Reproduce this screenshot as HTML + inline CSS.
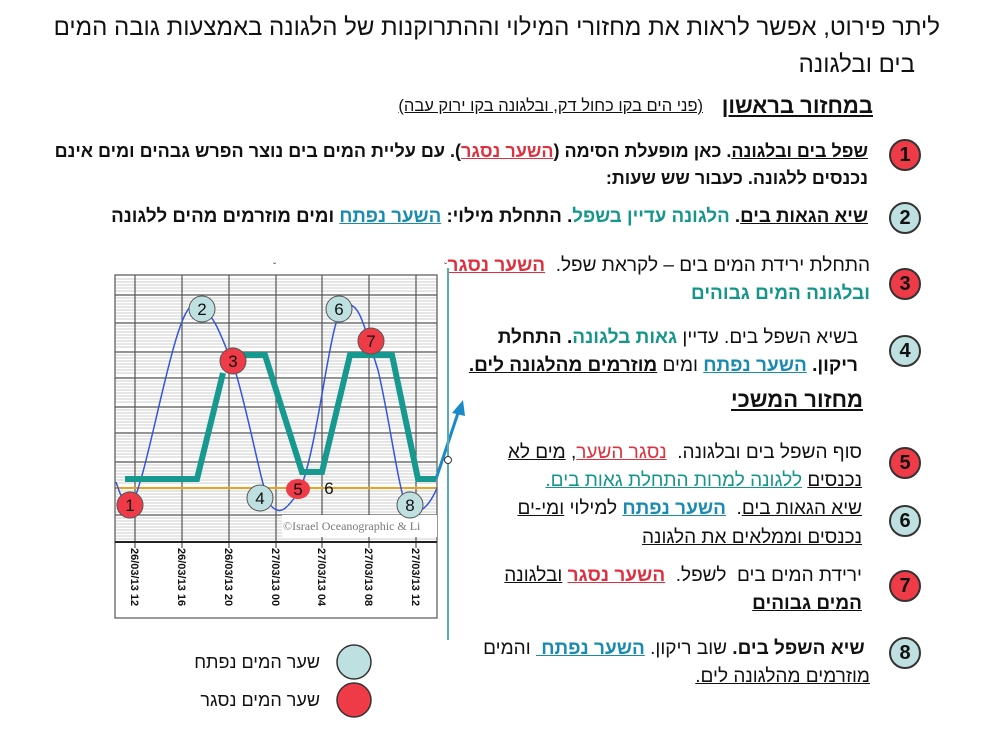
<!DOCTYPE html>
<html><head><meta charset="utf-8"><style>
body{margin:0;width:985px;height:734px;background:#fff;position:relative;overflow:hidden;font-family:"Liberation Sans","DejaVu Sans",sans-serif;}
.t{position:absolute;direction:rtl;white-space:nowrap;font-size:18px;font-weight:bold;color:#111;line-height:1;}
.w{font-size:19px;}
.u{text-decoration:underline;}
.r{color:#e0303f;}
.g{color:#16968a;}
.b{color:#1a8bb0;}
.n{position:absolute;width:28px;height:28px;border-radius:50%;border:2px solid #333;text-align:center;line-height:28px;font-size:20px;font-weight:bold;font-family:"Liberation Sans",sans-serif;color:#111;}
.red{background:#ef3b47;}.lb{background:#bfe0e0;}
</style></head><body>
<div class="t" style="right:45px;top:16px;font-size:24px;font-weight:normal;">ליתר פירוט, אפשר לראות את מחזורי המילוי וההתרוקנות של הלגונה באמצעות גובה המים</div>
<div class="t" style="right:70px;top:53px;font-size:24px;font-weight:normal;">בים ובלגונה</div>
<div class="t u" style="right:112px;top:95px;font-size:22px;">במחזור בראשון</div>
<div class="t u" style="right:282px;top:98px;font-size:16.5px;font-weight:normal;">(פני הים בקו כחול דק, ובלגונה בקו ירוק עבה)</div>

<div class="n red" style="left:889px;top:139px;">1</div>
<div class="t" style="right:117px;top:142px;"><span class="u">שפל בים ובלגונה</span>. כאן מופעלת הסימה (<span class="u r">השער נסגר</span>). עם עליית המים בים נוצר הפרש גבהים ומים אינם</div>
<div class="t" style="right:117px;top:169px;">נכנסים ללגונה. כעבור שש שעות:</div>
<div class="n lb" style="left:889px;top:202px;">2</div>
<div class="t" style="right:117px;top:207px;font-size:18.7px;"><span class="u">שיא הגאות בים</span>. <span class="g">הלגונה עדיין בשפל</span>. התחלת מילוי: <span class="u b">השער נפתח</span> ומים מוזרמים מהים ללגונה</div>
<div class="n red" style="left:889px;top:268px;">3</div>
<div class="t w" style="right:115px;top:256px;font-weight:normal;">התחלת ירידת המים בים – לקראת שפל.&nbsp; <b class="u r">השער נסגר</b></div>
<div class="t w g" style="right:115px;top:284px;">ובלגונה המים גבוהים</div>
<div class="n lb" style="left:889px;top:335px;">4</div>
<div class="t w" style="right:127px;top:328px;"><span style="font-weight:normal">בשיא השפל בים. עדיין </span><span class="g">גאות בלגונה</span>. התחלת</div>
<div class="t w" style="right:127px;top:356px;">ריקון. <span class="u b">השער נפתח</span> <span style="font-weight:normal">ומים</span> <span class="u">מוזרמים מהלגונה לים.</span></div>
<div class="t u" style="right:122px;top:389px;font-size:22px;">מחזור המשכי</div>
<div class="n red" style="left:889px;top:447px;">5</div>
<div class="t w" style="right:123px;top:443px;font-weight:normal;">סוף השפל בים ובלגונה.&nbsp; <span class="u r">נסגר השער</span>, <span class="u">מים לא</span></div>
<div class="t w" style="right:123px;top:471px;font-weight:normal;"><span class="u">נכנסים</span> <span class="u g">ללגונה למרות התחלת גאות בים.</span></div>
<div class="n lb" style="left:889px;top:505px;">6</div>
<div class="t w" style="right:123px;top:499px;font-weight:normal;"><span class="u">שיא הגאות בים</span>.&nbsp; <b class="u b">השער נפתח</b> למילוי <span class="u">ומי-ים</span></div>
<div class="t w u" style="right:123px;top:528px;font-weight:normal;">נכנסים וממלאים את הלגונה</div>
<div class="n red" style="left:889px;top:570px;">7</div>
<div class="t w" style="right:123px;top:566px;font-weight:normal;">ירידת המים בים&nbsp; לשפל.&nbsp; <b class="u r">השער נסגר</b> <span class="u">ובלגונה</span></div>
<div class="t w u" style="right:123px;top:594px;">המים גבוהים</div>
<div class="n lb" style="left:889px;top:637px;">8</div>
<div class="t w" style="right:115px;top:639px;">&nbsp;שיא השפל בים. <span style="font-weight:normal">שוב ריקון.</span> <span class="u b">השער נפתח&nbsp;</span> <span style="font-weight:normal">והמים</span></div>
<div class="t w" style="right:115px;top:667px;font-weight:normal;"><span class="u">מוזרמים מהלגונה לים.</span></div>

<div class="t" style="right:665px;top:653px;font-weight:normal;">שער המים נפתח</div>
<div class="t" style="right:665px;top:691px;font-weight:normal;">שער המים נסגר</div>

<svg style="position:absolute;left:0;top:0" width="985" height="734">
<circle cx="354" cy="662" r="17" fill="#bfe0e0" stroke="#333" stroke-width="1.5"/>
<circle cx="354" cy="700" r="17" fill="#ef3b47" stroke="#333" stroke-width="1.5"/>
<g stroke="#999" stroke-width="0.6">
<path d="M115 279H437M115 282H437M115 285H437M115 288H437M115 291H437M115 298H437M115 301H437M115 304H437M115 307H437M115 310H437M115 313H437M115 316H437M115 319H437M115 326H437M115 329H437M115 332H437M115 335H437M115 338H437M115 341H437M115 344H437M115 347H437M115 355H437M115 358H437M115 361H437M115 364H437M115 367H437M115 370H437M115 373H437M115 381H437M115 384H437M115 387H437M115 390H437M115 393H437M115 396H437M115 399H437M115 402H437M115 410H437M115 413H437M115 416H437M115 419H437M115 422H437M115 425H437M115 428H437M115 436H437M115 439H437M115 442H437M115 445H437M115 448H437M115 451H437M115 454H437M115 457H437M115 465H437M115 468H437M115 471H437M115 474H437M115 477H437M115 480H437M115 483H437M115 491H437M115 494H437M115 497H437M115 500H437M115 503H437M115 506H437M115 509H437M115 512H437M115 518H437M115 521H437M115 524H437M115 527H437M115 530H437M115 533H437M115 536H437M115 539H437"/>
</g>
<g stroke="#555" stroke-width="1.2">
<path d="M115 295H437M115 323H437M115 352H437M115 378H437M115 407H437M115 433H437M115 462H437M115 488H437M115 515H437"/>
<path d="M135 275V548M182 275V548M229 275V548M276 275V548M322 275V548M369 275V548M416 275V548"/>
</g>
<rect x="115" y="275" width="322" height="343" fill="none" stroke="#555" stroke-width="1.2"/>
<line x1="115" y1="542" x2="437" y2="542" stroke="#222" stroke-width="2"/>
<rect x="282" y="515" width="155" height="22" fill="#fff"/>
<text x="283" y="530" font-family="Liberation Serif,serif" font-size="12" fill="#777">©Israel Oceanographic &amp; Li</text>
<g font-family="Liberation Sans,sans-serif" font-size="11" font-weight="bold" fill="#111">
<text transform="translate(131,548) rotate(90)">26/03/13 12</text>
<text transform="translate(178,548) rotate(90)">26/03/13 16</text>
<text transform="translate(225,548) rotate(90)">26/03/13 20</text>
<text transform="translate(272,548) rotate(90)">27/03/13 00</text>
<text transform="translate(318,548) rotate(90)">27/03/13 04</text>
<text transform="translate(365,548) rotate(90)">27/03/13 08</text>
<text transform="translate(412,548) rotate(90)">27/03/13 12</text>
</g>
<line x1="116" y1="488" x2="436" y2="488" stroke="#f0a020" stroke-width="2"/>
<path d="M116 482C122 500 126 508 132 504C150 470 175 300 195 305C215 310 222 340 235 370C250 420 262 490 270 505C280 515 285 512 300 490C320 440 330 310 345 305C360 300 365 330 378 370C392 430 400 505 410 512C420 515 430 505 437 488" fill="none" stroke="#3355dd" stroke-width="1.5"/>
<polyline points="125,479 197,479 223,373" fill="none" stroke="#17998f" stroke-width="6"/>
<polyline points="242,355 265,355 302,472 322,472 350,355 392,355 418,479 436,479" fill="none" stroke="#17998f" stroke-width="6"/>
<line x1="436" y1="479" x2="459" y2="410" stroke="#1a8bc8" stroke-width="3"/>
<polygon points="463,400 452,413 465,416" fill="#1a8bc8"/>
<line x1="448" y1="268" x2="448" y2="640" stroke="#5aaab0" stroke-width="2"/>
<circle cx="448" cy="460" r="3.5" fill="#fff" stroke="#333"/>
<text x="273" y="270" font-size="10" fill="#444">ˇ</text><text x="444" y="270" font-size="10" fill="#444">ˇ</text>
<g font-family="Liberation Sans,sans-serif" font-size="17" text-anchor="middle" stroke="#555" stroke-width="1">
<circle cx="130" cy="505" r="13" fill="#ef3b47"/>
<circle cx="202" cy="309" r="13" fill="#bfe0e0"/>
<circle cx="233" cy="361" r="13" fill="#ef3b47"/>
<circle cx="260" cy="498" r="13" fill="#bfe0e0"/>
<ellipse cx="298" cy="489" rx="12" ry="10" fill="#ef3b47" stroke="none"/>
<circle cx="339" cy="309" r="13" fill="#bfe0e0"/>
<circle cx="371" cy="341" r="13" fill="#ef3b47"/>
<circle cx="410" cy="505" r="13" fill="#bfe0e0"/>
</g>
<g font-family="Liberation Sans,sans-serif" font-size="17" text-anchor="middle" fill="#111">
<text x="130" y="511">1</text><text x="202" y="315">2</text><text x="233" y="367">3</text><text x="260" y="504">4</text><text x="298" y="495">5</text><text x="329" y="494">6</text><text x="339" y="315">6</text><text x="371" y="347">7</text><text x="410" y="511">8</text>
</g>
</svg>
</body></html>
